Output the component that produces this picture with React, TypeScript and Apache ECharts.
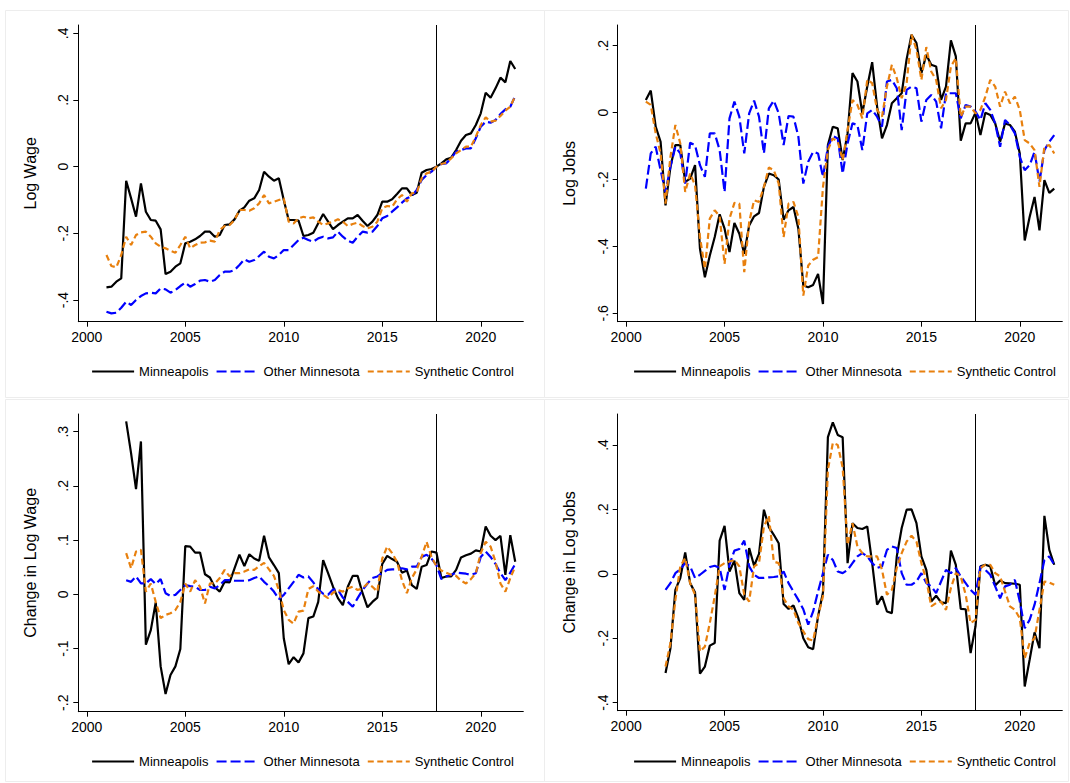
import React, { useEffect, useRef } from "react";
import * as echarts from "echarts";

// ---------- Data (quarterly) ----------
const LEVEL_START = 2001; // 2001q1 .. 2021q4
const CHANGE_START = 2002; // 2002q1 .. 2021q4
const TREATMENT_DATE = 2017.75;
const X_TICKS = [2000, 2005, 2010, 2015, 2020];
const SERIES_NAMES = ["Minneapolis", "Other Minnesota", "Synthetic Control"];

const wageMinneapolis = [
  -0.362, -0.36, -0.345, -0.335, -0.042, -0.095, -0.15, -0.05, -0.135, -0.16, -0.162, -0.188,
  -0.322, -0.315, -0.3, -0.29, -0.23, -0.225, -0.218, -0.208, -0.195, -0.195, -0.21, -0.205,
  -0.175, -0.173, -0.158, -0.132, -0.122, -0.102, -0.095, -0.07, -0.015, -0.03, -0.042, -0.035,
  -0.1, -0.16, -0.16, -0.162, -0.208, -0.205, -0.198, -0.17, -0.142, -0.165, -0.187, -0.175,
  -0.165, -0.155, -0.155, -0.145, -0.162, -0.178, -0.165, -0.145, -0.105, -0.105, -0.098, -0.082,
  -0.065, -0.065, -0.085, -0.078, -0.018, -0.01, -0.007, 0.0, 0.01, 0.022, 0.027, 0.05,
  0.078, 0.095, 0.1, 0.125, 0.16, 0.222, 0.207, 0.235, 0.267, 0.253, 0.317, 0.293,
];
const wageOther = [
  -0.435, -0.44, -0.438, -0.423, -0.405, -0.415, -0.4, -0.388, -0.38, -0.378, -0.38, -0.365,
  -0.368, -0.378, -0.37, -0.358, -0.348, -0.36, -0.352, -0.342, -0.34, -0.345, -0.34, -0.325,
  -0.315, -0.315, -0.31, -0.295, -0.278, -0.285, -0.28, -0.268, -0.255, -0.27, -0.275, -0.265,
  -0.25, -0.25, -0.235, -0.22, -0.213, -0.22, -0.225, -0.215, -0.21, -0.215, -0.212, -0.195,
  -0.21, -0.222, -0.228, -0.21, -0.195, -0.198, -0.195, -0.178, -0.155, -0.148, -0.135, -0.122,
  -0.108, -0.095, -0.088, -0.07, -0.04, -0.025, -0.015, 0.0, 0.008, 0.01, 0.025, 0.045,
  0.05, 0.055, 0.055, 0.085, 0.12, 0.135, 0.132, 0.14, 0.158, 0.172, 0.18, 0.212,
];
const wageSynthetic = [
  -0.265, -0.298, -0.302, -0.265, -0.21, -0.235, -0.205, -0.197, -0.195, -0.21, -0.23, -0.24,
  -0.245, -0.252, -0.258, -0.235, -0.21, -0.245, -0.235, -0.228, -0.227, -0.222, -0.225, -0.19,
  -0.178, -0.175, -0.16, -0.13, -0.13, -0.132, -0.125, -0.11, -0.085, -0.11, -0.105, -0.1,
  -0.095, -0.165, -0.17, -0.155, -0.15, -0.155, -0.152, -0.165, -0.175, -0.17, -0.165, -0.158,
  -0.165, -0.178, -0.172, -0.168, -0.178, -0.185, -0.18, -0.165, -0.125, -0.118, -0.12, -0.098,
  -0.085, -0.105, -0.08, -0.078, -0.035, -0.02, -0.015, 0.0, 0.008, 0.012, 0.025, 0.04,
  0.05, 0.06, 0.06, 0.09, 0.125, 0.148, 0.135, 0.138, 0.152, 0.168, 0.18, 0.212,
];

const jobsMinneapolis = [
  0.038, 0.066, -0.042, -0.087, -0.277, -0.162, -0.097, -0.097, -0.207, -0.197, -0.157, -0.407,
  -0.492, -0.427, -0.372, -0.304, -0.347, -0.417, -0.33, -0.362, -0.422, -0.337, -0.31, -0.3,
  -0.222, -0.182, -0.187, -0.2, -0.32, -0.292, -0.282, -0.347, -0.517, -0.522, -0.515, -0.482,
  -0.572, -0.097, -0.042, -0.047, -0.142, -0.062, 0.118, 0.093, -0.002, 0.078, 0.151, 0.018,
  -0.077, -0.037, 0.028, 0.043, 0.058, 0.16, 0.233, 0.208, 0.118, 0.173, 0.143, 0.138,
  0.038, 0.078, 0.216, 0.168, -0.084, -0.032, -0.032, 0.0, -0.067, 0.0, -0.007, -0.032,
  -0.087, -0.032, -0.037, -0.057, -0.122, -0.382, -0.312, -0.252, -0.352, -0.202, -0.24, -0.227,
];
const jobsOther = [
  -0.227, -0.122, -0.102, -0.172, -0.237, -0.162, -0.102, -0.122, -0.212, -0.09, -0.097, -0.157,
  -0.192, -0.062, -0.062, -0.112, -0.237, -0.017, 0.033, -0.012, -0.122, -0.002, 0.036, -0.012,
  -0.122, 0.013, 0.036, -0.002, -0.097, -0.01, -0.012, -0.072, -0.212, -0.147, -0.117, -0.122,
  -0.192, -0.102, -0.07, -0.077, -0.182, -0.092, -0.032, -0.037, -0.112, -0.002, 0.008, -0.012,
  -0.042, 0.093, 0.098, 0.073, -0.052, 0.068, 0.078, 0.073, -0.027, 0.038, 0.053, 0.033,
  -0.047, 0.058, 0.058, 0.058, -0.017, 0.023, 0.018, 0.003, -0.022, 0.028, 0.008, -0.032,
  -0.102, -0.022, -0.037, -0.062, -0.132, -0.172, -0.157, -0.117, -0.207, -0.112, -0.087, -0.067,
];
const jobsSynthetic = [
  0.033, 0.023, -0.062, -0.122, -0.272, -0.132, -0.037, -0.092, -0.237, -0.182, -0.217, -0.372,
  -0.467, -0.317, -0.292, -0.31, -0.452, -0.317, -0.27, -0.272, -0.477, -0.327, -0.262, -0.267,
  -0.222, -0.164, -0.172, -0.212, -0.372, -0.272, -0.267, -0.312, -0.547, -0.457, -0.44, -0.432,
  -0.222, -0.112, -0.077, -0.087, -0.142, -0.052, 0.038, 0.023, -0.017, 0.098, 0.088, 0.008,
  -0.012, 0.078, 0.143, 0.103, 0.043, 0.088, 0.233, 0.188, 0.098, 0.196, 0.123, 0.098,
  0.013, 0.038, 0.138, 0.163, -0.012, 0.018, 0.018, -0.002, 0.008, 0.048, 0.098, 0.078,
  0.018, 0.063, 0.028, 0.048, 0.008, -0.082, -0.092, -0.112, -0.222, -0.102, -0.097, -0.122,
];

const wageChangeMinneapolis = [
  0.319, 0.26, 0.194, 0.282, -0.093, -0.066, -0.015, -0.133, -0.184, -0.149, -0.133, -0.101,
  0.089, 0.088, 0.077, 0.077, 0.037, 0.031, 0.013, 0.005, 0.023, 0.022, 0.048, 0.073,
  0.052, 0.074, 0.066, 0.062, 0.108, 0.068, 0.054, 0.039, -0.081, -0.129, -0.116, -0.126,
  -0.109, -0.044, -0.041, -0.014, 0.063, 0.039, 0.014, -0.007, -0.02, 0.014, 0.034, 0.034,
  0.002, -0.024, -0.014, -0.006, 0.056, 0.071, 0.065, 0.06, 0.04, 0.044, 0.017, 0.01,
  0.051, 0.054, 0.079, 0.077, 0.03, 0.033, 0.033, 0.045, 0.068, 0.072, 0.075, 0.081,
  0.079, 0.125, 0.108, 0.1, 0.108, 0.036, 0.109, 0.06,
];
const wageChangeOther = [
  0.026, 0.023, 0.033, 0.02, 0.02, 0.028, 0.019, 0.028, 0.002, -0.003, -0.001, 0.008,
  0.017, 0.015, 0.014, 0.008, 0.008, 0.014, 0.011, 0.017, 0.026, 0.026, 0.025, 0.025,
  0.025, 0.026, 0.03, 0.033, 0.023, 0.015, 0.005, -0.009, -0.001, 0.011, 0.023, 0.036,
  0.031, 0.033, 0.022, 0.009, 0.001, -0.001, 0.009, 0.008, -0.006, -0.014, -0.023, -0.007,
  0.008, 0.02, 0.03, 0.033, 0.039, 0.045, 0.046, 0.046, 0.048, 0.046, 0.051, 0.051,
  0.069, 0.073, 0.066, 0.054, 0.028, 0.033, 0.036, 0.04, 0.039, 0.038, 0.036, 0.039,
  0.069, 0.079, 0.069, 0.056, 0.039, 0.026, 0.04, 0.056,
];
const wageChangeSynthetic = [
  0.076, 0.048, 0.079, 0.082, 0.005, 0.02, -0.014, -0.044, -0.038, -0.035, -0.029, -0.014,
  0.02, 0.005, 0.026, 0.014, -0.017, 0.02, 0.02, 0.03, 0.045, 0.033, 0.039, 0.039,
  0.042, 0.046, 0.045, 0.052, 0.058, 0.046, 0.034, 0.008, -0.029, -0.047, -0.054, -0.032,
  -0.03, 0.01, 0.015, 0.005, -0.001, -0.007, 0.003, 0.008, 0.005, 0.011, 0.014, 0.008,
  0.011, 0.02, 0.014, 0.005, 0.066, 0.088, 0.076, 0.06, 0.026, 0.002, 0.03, 0.046,
  0.069, 0.097, 0.069, 0.052, 0.044, 0.04, 0.036, 0.034, 0.025, 0.02, 0.028, 0.039,
  0.076, 0.097, 0.088, 0.06, 0.02, 0.005, 0.03, 0.051,
];

const jobsChangeMinneapolis = [
  -0.308, -0.231, -0.05, -0.013, 0.066, -0.029, -0.058, -0.31, -0.288, -0.223, -0.215, 0.103,
  0.149, 0.007, 0.041, -0.06, -0.081, 0.08, 0.025, 0.062, 0.199, 0.145, 0.121, 0.095,
  -0.094, -0.109, -0.098, -0.138, -0.2, -0.228, -0.234, -0.132, -0.058, 0.424, 0.47, 0.431,
  0.424, 0.033, 0.157, 0.142, 0.139, 0.147, 0.033, -0.096, -0.07, -0.117, -0.122, 0.054,
  0.142, 0.199, 0.2, 0.157, 0.054, 0.012, -0.086, -0.068, -0.089, -0.091, 0.072, 0.028,
  -0.109, -0.11, -0.246, -0.163, 0.023, 0.028, 0.023, -0.036, -0.021, -0.029, -0.03, -0.031,
  -0.034, -0.35, -0.267, -0.182, -0.231, 0.18, 0.074, 0.028,
];
const jobsChangeOther = [
  -0.05, -0.029, 0.002, 0.014, 0.033, 0.023, -0.013, -0.003, 0.009, 0.021, 0.025, 0.018,
  -0.05, 0.028, 0.072, 0.077, 0.103, 0.023, -0.003, -0.013, -0.013, -0.011, -0.01, -0.008,
  0.007, -0.029, -0.055, -0.081, -0.11, -0.158, -0.117, -0.055, 0.002, 0.059, 0.043, 0.007,
  0.002, 0.012, 0.033, 0.054, 0.064, 0.054, 0.033, 0.018, 0.023, 0.074, 0.085, 0.08,
  0.002, -0.034, -0.034, -0.024, 0.002, -0.029, -0.039, -0.06, -0.024, 0.012, 0.002, 0.018,
  -0.008, -0.029, -0.05, -0.065, 0.023, 0.012, -0.003, -0.039, -0.076, -0.039, -0.034, -0.019,
  -0.086, -0.169, -0.143, -0.096, -0.029, 0.043, 0.054, 0.028,
];
const jobsChangeSynthetic = [
  -0.288, -0.215, -0.081, 0.023, 0.049, -0.029, -0.065, -0.241, -0.226, -0.153, -0.07, 0.023,
  0.033, 0.038, 0.043, 0.023, -0.065, -0.086, 0.023, 0.033, 0.147, 0.18, 0.038, 0.033,
  -0.076, -0.101, -0.112, -0.153, -0.179, -0.203, -0.207, -0.132, -0.07, 0.323, 0.406, 0.4,
  0.33, 0.09, 0.157, 0.085, 0.064, 0.054, 0.054, 0.054, 0.012, -0.065, -0.05, 0.018,
  0.064, 0.1, 0.118, 0.1, 0.033, -0.019, -0.101, -0.091, -0.086, -0.112, -0.044, 0.002,
  -0.008, -0.065, -0.153, -0.143, 0.018, 0.028, 0.028, 0.002, -0.008, -0.055, -0.101, -0.112,
  -0.138, -0.262, -0.215, -0.2, -0.112, -0.024, -0.027, -0.034,
];

const Y_TICKS_WAGE = [-0.4, -0.2, 0, 0.2, 0.4];
const Y_TICKS_JOBS = [-0.6, -0.4, -0.2, 0, 0.2];
const Y_TICKS_WAGE_CHANGE = [-0.2, -0.1, 0, 0.1, 0.2, 0.3];
const Y_TICKS_JOBS_CHANGE = [-0.4, -0.2, 0, 0.2, 0.4];

// ---------- Styling ----------
const FONT = "'Liberation Sans', Arial, Helvetica, sans-serif";
const COLORS = ["#000000", "#0000ff", "#e8800e"];
const DASHES: any[] = ["solid", [10, 4], [6, 3.5]];
const LINE_WIDTH = 2.2;

const panels = [
  {
    title: "Log Wage",
    start: LEVEL_START,
    series: [wageMinneapolis, wageOther, wageSynthetic],
    yTicks: Y_TICKS_WAGE,
    yMin: -0.465,
    yMax: 0.425,
    grid: { left: 78.3, top: 25, width: 445, height: 296.7 },
    legend: { left: 86, top: 360 },
  },
  {
    title: "Log Jobs",
    start: LEVEL_START,
    series: [jobsMinneapolis, jobsOther, jobsSynthetic],
    yTicks: Y_TICKS_JOBS,
    yMin: -0.625,
    yMax: 0.262,
    grid: { left: 617.7, top: 25, width: 444.6, height: 296.7 },
    legend: { left: 628, top: 360 },
  },
  {
    title: "Change in Log Wage",
    start: CHANGE_START,
    series: [wageChangeMinneapolis, wageChangeOther, wageChangeSynthetic],
    yTicks: Y_TICKS_WAGE_CHANGE,
    yMin: -0.2166,
    yMax: 0.3327,
    grid: { left: 78.3, top: 414, width: 445, height: 297.7 },
    legend: { left: 86, top: 750 },
  },
  {
    title: "Change in Log Jobs",
    start: CHANGE_START,
    series: [jobsChangeMinneapolis, jobsChangeOther, jobsChangeSynthetic],
    yTicks: Y_TICKS_JOBS_CHANGE,
    yMin: -0.425,
    yMax: 0.496,
    grid: { left: 617.7, top: 414, width: 444.6, height: 296.7 },
    legend: { left: 628, top: 750 },
  },
];

const stataFormat = (v: number) => {
  const r = Math.round(v * 100) / 100;
  if (r === 0) return "0";
  return String(r).replace(/^(-?)0\./, "$1.");
};

function buildOption() {
  const grid: any[] = [];
  const xAxis: any[] = [];
  const yAxis: any[] = [];
  const series: any[] = [];
  const legend: any[] = [];

  panels.forEach((p, gi) => {
    grid.push({ ...p.grid, containLabel: false });
    xAxis.push({
      type: "value",
      gridIndex: gi,
      min: 1999.57,
      max: 2022.16,
      axisLine: { show: true, onZero: false, lineStyle: { color: "#000", width: 1 } },
      axisTick: { show: true, length: 5, customValues: X_TICKS, lineStyle: { color: "#000", width: 1 } },
      axisLabel: {
        customValues: X_TICKS,
        formatter: (v: number) => String(Math.round(v)),
        fontSize: 14,
        fontFamily: FONT,
        color: "#000",
        margin: 8,
      },
      splitLine: { show: false },
    });
    yAxis.push({
      type: "value",
      gridIndex: gi,
      min: p.yMin,
      max: p.yMax,
      name: p.title,
      nameLocation: "middle",
      nameRotate: 90,
      nameGap: 40,
      nameTextStyle: { fontSize: 16, fontFamily: FONT, color: "#000" },
      axisLine: { show: true, onZero: false, lineStyle: { color: "#000", width: 1 } },
      axisTick: { show: true, length: 5, customValues: p.yTicks, lineStyle: { color: "#000", width: 1 } },
      axisLabel: {
        customValues: p.yTicks,
        formatter: stataFormat,
        rotate: 90,
        fontSize: 14,
        fontFamily: FONT,
        color: "#000",
        margin: 8,
      },
      splitLine: { show: false },
    });
    p.series.forEach((vals, si) => {
      const s: any = {
        type: "line",
        name: SERIES_NAMES[si],
        xAxisIndex: gi,
        yAxisIndex: gi,
        data: vals.map((v, k) => [p.start + k / 4, v]),
        showSymbol: false,
        symbol: "none",
        lineStyle: { color: COLORS[si], width: LINE_WIDTH, type: DASHES[si] },
        itemStyle: { color: COLORS[si] },
        z: 2 + si,
      };
      if (si === 0) {
        s.markLine = {
          silent: true,
          symbol: ["none", "none"],
          label: { show: false },
          lineStyle: { color: "#000", width: 1, type: "solid" },
          data: [{ xAxis: TREATMENT_DATE }],
          z: 1,
        };
      }
      series.push(s);
    });
    legend.push({
      left: p.legend.left,
      top: p.legend.top,
      data: SERIES_NAMES,
      itemWidth: 42,
      itemHeight: 14,
      itemGap: 7,
      selectedMode: false,
      itemStyle: { opacity: 0, borderWidth: 0 },
      lineStyle: { width: LINE_WIDTH },
      textStyle: { fontSize: 13, fontFamily: FONT, color: "#000" },
    });
  });

  const borderStyle = { fill: "none", stroke: "#ededed", lineWidth: 1 };
  const graphic = [
    { type: "rect", shape: { x: 5.5, y: 10.5, width: 539, height: 387 }, style: borderStyle, silent: true },
    { type: "rect", shape: { x: 544.5, y: 10.5, width: 524, height: 387 }, style: borderStyle, silent: true },
    { type: "rect", shape: { x: 5.5, y: 399.5, width: 539, height: 382 }, style: borderStyle, silent: true },
    { type: "rect", shape: { x: 544.5, y: 399.5, width: 524, height: 382 }, style: borderStyle, silent: true },
  ];

  return {
    animation: false,
    backgroundColor: "#ffffff",
    textStyle: { fontFamily: FONT },
    grid,
    xAxis,
    yAxis,
    series,
    legend,
    graphic,
  };
}

export default function App() {
  const ref = useRef<HTMLDivElement>(null);
  useEffect(() => {
    if (!ref.current) return;
    const chart = echarts.init(ref.current, undefined, { renderer: "svg" });
    chart.setOption(buildOption() as any);
    return () => chart.dispose();
  }, []);
  return (
    <div
      ref={ref}
      style={{ position: "absolute", left: 0, top: 0, width: 1070, height: 783, background: "#fff" }}
    />
  );
}
